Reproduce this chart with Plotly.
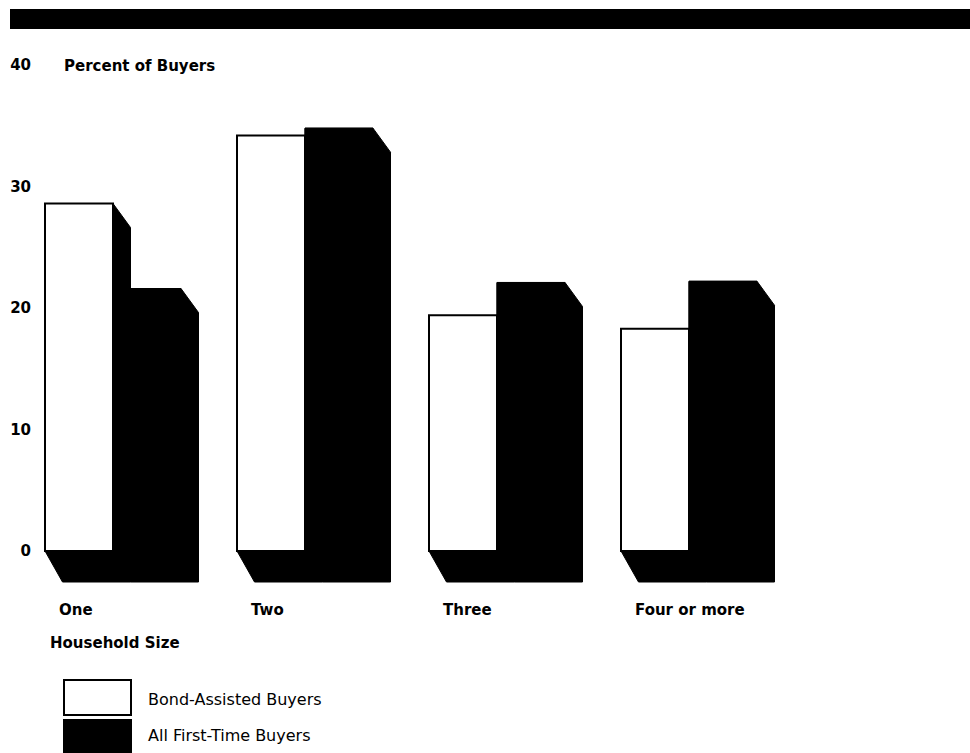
import plotly.graph_objects as go

# Household size categories and share of buyers (percent)
categories = ["One", "Two", "Three", "Four or more"]
bond_assisted = [28.6, 34.2, 19.4, 18.3]
all_first_time = [21.6, 34.8, 22.1, 22.2]
y_ticks = [0, 10, 20, 30, 40]
series_names = ["Bond-Assisted Buyers", "All First-Time Buyers"]
y_title = "Percent of Buyers"
x_title = "Household Size"

# Page geometry (pixels)
W, H = 970, 753
PX_X = 192.0          # pixels per category step
PX_Y = 12.15          # pixels per percentage point
PLOT_LEFT = 36        # left edge of the plotting area
ZERO_PX = 551         # vertical pixel of the zero line
PAIR_PX = 113         # horizontal pixel where the first pair of bars meets

x_start = -(PAIR_PX - PLOT_LEFT) / PX_X
x_range = [x_start, x_start + (W - PLOT_LEFT) / PX_X]
y_range = [(ZERO_PX - H) / PX_Y, ZERO_PX / PX_Y]

# Bar width and the oblique depth offsets, in axis units
BAR_W = 68 / PX_X
DX = 17.5 / PX_X
DY_TOP = 24 / PX_Y
DY_BOT = 31 / PX_Y

FONT = "DejaVu Sans"
idx = list(range(len(categories)))

fig = go.Figure()

# Depth (extrusion) of the white bars, drawn outside the white face
for i, v in zip(idx, bond_assisted):
    x0, x1 = i - BAR_W, i
    xs = [x1, x1 + DX, x1 + DX, x0 + DX, x0, x1, x1]
    ys = [v, v - DY_TOP, -DY_BOT, -DY_BOT, 0, 0, v]
    fig.add_trace(go.Scatter(x=xs, y=ys, mode="lines", fill="toself",
                             fillcolor="black", line=dict(color="black", width=1),
                             hoverinfo="skip", showlegend=False))

# Solid black bars including their depth
for i, v in zip(idx, all_first_time):
    xa, xb = i, i + BAR_W
    xs = [xa, xb, xb + DX, xb + DX, xa + DX, xa, xa]
    ys = [v, v, v - DY_TOP, -DY_BOT, -DY_BOT, 0, v]
    fig.add_trace(go.Scatter(x=xs, y=ys, mode="lines", fill="toself",
                             fillcolor="black", line=dict(color="black", width=1),
                             hoverinfo="skip", showlegend=False))

# Front faces
fig.add_trace(go.Bar(x=idx, y=bond_assisted, width=BAR_W, offset=-BAR_W,
                     marker=dict(color="white", line=dict(color="black", width=2)),
                     name=series_names[0], showlegend=False))
fig.add_trace(go.Bar(x=idx, y=all_first_time, width=BAR_W, offset=0,
                     marker=dict(color="black", line=dict(color="black", width=1)),
                     name=series_names[1], showlegend=False))


def py(px):
    return 1 - px / H


def px_(x):
    return x / W


annotations = []
for i, name in zip(idx, categories):
    annotations.append(dict(x=i - BAR_W, xref="x", xshift=12, y=py(610), yref="paper",
                            text=name, showarrow=False, xanchor="left", yanchor="middle",
                            font=dict(family=FONT, size=15, color="black", weight="bold")))

annotations += [
    dict(x=px_(62), y=py(66), xref="paper", yref="paper", text=y_title,
         showarrow=False, xanchor="left", yanchor="middle",
         font=dict(family=FONT, size=15, color="black", weight="bold")),
    dict(x=px_(48), y=py(643), xref="paper", yref="paper", text=x_title,
         showarrow=False, xanchor="left", yanchor="middle",
         font=dict(family=FONT, size=15, color="black", weight="bold")),
    dict(x=px_(146), y=py(699), xref="paper", yref="paper", text=series_names[0],
         showarrow=False, xanchor="left", yanchor="middle",
         font=dict(family=FONT, size=16, color="black")),
    dict(x=px_(146), y=py(735), xref="paper", yref="paper", text=series_names[1],
         showarrow=False, xanchor="left", yanchor="middle",
         font=dict(family=FONT, size=16, color="black")),
]

shapes = [
    # heavy rule across the top of the page
    dict(type="rect", xref="paper", yref="paper", x0=px_(10), x1=1,
         y0=py(29), y1=py(9), fillcolor="black", line=dict(width=0)),
    # legend swatches
    dict(type="rect", xref="paper", yref="paper", x0=px_(64), x1=px_(131),
         y0=py(715), y1=py(680), fillcolor="white", line=dict(color="black", width=2)),
    dict(type="rect", xref="paper", yref="paper", x0=px_(63), x1=px_(132),
         y0=0, y1=py(719), fillcolor="black", line=dict(width=0)),
]

fig.update_layout(
    width=W, height=H,
    margin=dict(l=0, r=0, t=0, b=0),
    paper_bgcolor="white", plot_bgcolor="white",
    barmode="overlay",
    xaxis=dict(domain=[PLOT_LEFT / W, 1], range=x_range, visible=False, fixedrange=True),
    yaxis=dict(domain=[0, 1], range=y_range, tickvals=y_ticks,
               ticktext=[str(t) for t in y_ticks],
               showgrid=False, zeroline=False, showline=False, ticks="",
               ticklabelstandoff=4,
               tickfont=dict(family=FONT, size=15, color="black", weight="bold"),
               fixedrange=True),
    annotations=annotations,
    shapes=shapes,
)

fig.write_html("out.html")
